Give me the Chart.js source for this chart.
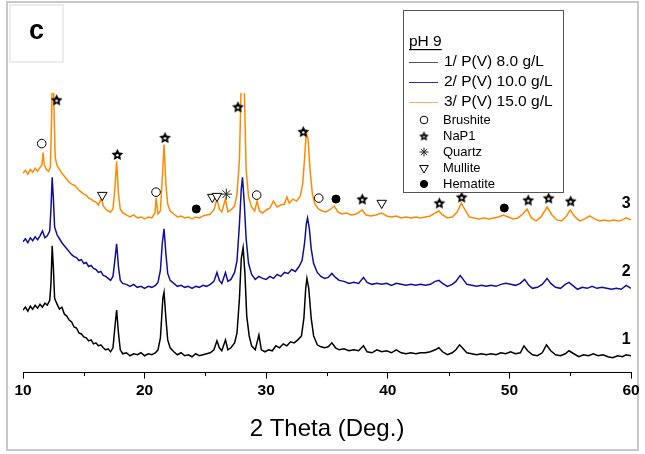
<!DOCTYPE html>
<html>
<head>
<meta charset="utf-8">
<script src="https://cdn.jsdelivr.net/npm/chart.js@4/dist/chart.umd.min.js"></script>
<style>
  html, body { margin: 0; padding: 0; background: #fff; }
  #wrap { width: 645px; height: 454px; }
</style>
</head>
<body>
<div id="wrap"><canvas id="xrd" width="645" height="454"></canvas></div>
<script>
// wzorce XRD (2 theta, intensywność a.u. z przesunięciem)
const pattern1 = [
  [10.0,63],[10.2,66],[10.4,62],[10.6,67],[10.8,64],[11.0,68],[11.2,65],[11.4,69],[11.6,66],[11.8,70],
  [12.0,68],[12.2,73],[12.3,90],[12.4,128],[12.5,105],[12.6,75],[12.8,69],[13.0,64],[13.2,66],[13.4,59],
  [13.6,57],[13.8,53],[14.0,51],[14.2,46],[14.4,45],[14.6,40],[14.8,39],[15.0,36],[15.2,35],[15.4,32],
  [15.6,33],[15.8,29],[16.0,30],[16.2,27],[16.4,28],[16.6,25],[16.8,23],[17.0,24],[17.2,21],[17.4,25],
  [17.55,45],[17.7,63],[17.85,40],[18.0,23],[18.2,19],[18.5,20],[18.8,17],[19.1,19],[19.4,18],[19.7,20],
  [20.0,17],[20.3,19],[20.6,18],[20.9,20],[21.1,23],[21.3,35],[21.5,75],[21.6,81],[21.75,55],[21.9,33],
  [22.1,25],[22.4,21],[22.7,18],[23.0,20],[23.3,17],[23.6,18],[23.9,16],[24.2,19],[24.5,17],[24.8,18],
  [25.1,19],[25.4,20],[25.7,23],[25.95,32],[26.15,25],[26.35,22],[26.65,33],[26.85,23],[27.1,25],[27.4,30],
  [27.6,40],[27.8,75],[27.95,115],[28.1,126],[28.25,100],[28.4,57],[28.6,37],[28.8,27],[29.1,23],[29.4,38],
  [29.6,23],[29.9,21],[30.2,23],[30.5,22],[30.8,27],[31.1,25],[31.4,29],[31.7,27],[32.0,31],[32.3,30],
  [32.6,33],[32.9,37],[33.1,55],[33.25,85],[33.35,95],[33.5,85],[33.7,55],[33.9,37],[34.2,28],[34.5,26],
  [34.8,25],[35.1,26],[35.4,30],[35.7,25],[36.0,23],[36.4,24],[36.8,22],[37.2,23],[37.6,22],[38.0,27],
  [38.3,21],[38.7,20],[39.1,23],[39.5,21],[39.9,22],[40.3,20],[40.7,23],[41.1,20],[41.5,19],[41.9,20],
  [42.3,19],[42.7,20],[43.1,20],[43.5,21],[43.9,23],[44.2,25],[44.5,21],[44.9,18],[45.3,20],[45.6,23],
  [45.9,28],[46.2,24],[46.5,20],[46.9,19],[47.3,18],[47.7,19],[48.1,18],[48.5,19],[48.9,18],[49.3,20],
  [49.7,19],[50.1,21],[50.5,19],[50.9,20],[51.2,27],[51.5,22],[51.9,18],[52.3,17],[52.7,20],[53.05,28],
  [53.4,22],[53.8,18],[54.2,17],[54.6,19],[54.9,22],[55.3,19],[55.7,16],[56.1,18],[56.5,17],[56.9,19],
  [57.3,17],[57.7,18],[58.1,16],[58.5,15],[58.9,17],[59.3,16],[59.6,18],[60.0,17]
];

const pattern2 = [
  [10.0,132],[10.2,135],[10.4,131],[10.6,136],[10.8,133],[11.0,137],[11.2,134],[11.4,138],[11.6,143],[11.8,136],
  [12.0,138],[12.2,143],[12.3,165],[12.4,197],[12.5,175],[12.6,147],[12.8,139],[13.0,135],[13.2,131],[13.4,128],
  [13.6,125],[13.8,122],[14.0,119],[14.2,117],[14.4,116],[14.6,113],[14.8,114],[15.0,110],[15.2,111],[15.4,107],
  [15.6,108],[15.8,105],[16.0,104],[16.2,101],[16.4,102],[16.6,98],[16.8,97],[17.0,95],[17.2,93],[17.4,97],
  [17.55,113],[17.7,130],[17.85,107],[18.0,93],[18.2,90],[18.5,89],[18.8,87],[19.1,89],[19.4,86],[19.7,87],
  [20.0,85],[20.3,87],[20.6,86],[20.9,88],[21.1,91],[21.3,103],[21.45,130],[21.6,145],[21.75,120],[21.9,100],
  [22.1,93],[22.4,90],[22.7,87],[23.0,88],[23.3,86],[23.6,87],[23.9,85],[24.2,87],[24.5,86],[24.8,88],
  [25.1,87],[25.4,89],[25.7,92],[25.95,101],[26.15,93],[26.35,90],[26.65,101],[26.85,92],[27.1,94],[27.4,101],
  [27.6,113],[27.8,150],[27.95,185],[28.05,197],[28.2,170],[28.35,135],[28.55,110],[28.8,99],[29.1,94],[29.4,97],
  [29.7,95],[30.0,94],[30.3,97],[30.6,95],[30.9,99],[31.2,97],[31.5,101],[31.8,100],[32.1,104],[32.4,102],
  [32.7,107],[32.95,113],[33.15,130],[33.3,150],[33.4,156],[33.55,145],[33.7,125],[33.9,110],[34.2,101],[34.5,97],
  [34.8,95],[35.1,96],[35.4,100],[35.7,96],[36.0,93],[36.4,92],[36.8,90],[37.2,91],[37.6,90],[38.0,96],
  [38.3,91],[38.7,89],[39.1,90],[39.5,89],[39.9,90],[40.3,88],[40.7,90],[41.1,89],[41.5,88],[41.9,89],
  [42.3,88],[42.7,89],[43.1,88],[43.5,89],[43.9,92],[44.2,93],[44.5,90],[44.9,87],[45.3,89],[45.6,92],
  [45.95,98],[46.2,94],[46.5,89],[46.9,88],[47.3,87],[47.7,88],[48.1,87],[48.5,88],[48.9,87],[49.3,89],
  [49.7,90],[50.1,89],[50.5,88],[50.9,90],[51.25,94],[51.6,88],[51.9,85],[52.3,86],[52.7,89],[53.1,95],
  [53.4,90],[53.8,86],[54.2,85],[54.6,89],[54.9,91],[55.2,88],[55.6,84],[56.0,86],[56.4,85],[56.8,87],
  [57.2,85],[57.6,86],[58.0,85],[58.4,84],[58.8,85],[59.2,84],[59.6,88],[60.0,85]
];

const pattern3 = [
  [10.0,201],[10.2,204],[10.4,200],[10.6,205],[10.8,202],[11.0,206],[11.2,203],[11.4,207],[11.55,209],[11.65,222],
  [11.75,210],[11.9,205],[12.1,203],[12.25,207],[12.35,255],[12.45,335],[12.55,265],[12.65,217],[12.8,209],[13.0,205],
  [13.2,201],[13.4,198],[13.6,195],[13.8,192],[14.0,190],[14.2,189],[14.4,187],[14.6,184],[14.8,182],[15.0,180],
  [15.2,179],[15.4,176],[15.6,175],[15.8,173],[16.0,172],[16.2,169],[16.45,176],[16.6,168],[16.8,165],[17.0,163],
  [17.2,162],[17.4,165],[17.55,185],[17.7,213],[17.85,180],[18.0,165],[18.2,161],[18.5,159],[18.8,157],[19.1,159],
  [19.4,156],[19.7,157],[20.0,155],[20.3,157],[20.6,156],[20.85,161],[20.95,176],[21.1,160],[21.3,163],[21.45,195],
  [21.6,230],[21.75,190],[21.9,170],[22.1,163],[22.4,160],[22.7,157],[23.0,158],[23.3,156],[23.6,157],[23.9,155],
  [24.2,157],[24.5,156],[24.8,158],[25.1,159],[25.4,160],[25.7,164],[25.95,175],[26.15,165],[26.35,162],[26.65,175],
  [26.85,162],[27.1,164],[27.4,168],[27.6,180],[27.8,215],[27.95,295],[28.07,335],[28.2,285],[28.35,205],[28.55,177],
  [28.8,167],[29.05,163],[29.25,173],[29.45,163],[29.7,161],[30.0,164],[30.3,166],[30.6,173],[30.9,167],[31.2,169],
  [31.5,170],[31.7,177],[31.9,171],[32.2,175],[32.5,173],[32.8,178],[33.0,190],[33.15,215],[33.3,242],[33.45,235],
  [33.6,205],[33.8,180],[34.0,170],[34.3,165],[34.6,163],[34.9,162],[35.2,164],[35.6,168],[35.9,162],[36.2,160],
  [36.6,161],[37.0,159],[37.4,160],[37.9,164],[38.2,159],[38.6,158],[39.0,159],[39.5,161],[39.9,158],[40.3,157],
  [40.7,158],[41.1,156],[41.5,157],[41.9,156],[42.3,157],[42.7,156],[43.1,157],[43.5,158],[43.9,161],[44.2,163],
  [44.5,159],[44.9,156],[45.3,157],[45.7,162],[46.05,171],[46.4,163],[46.7,157],[47.1,156],[47.5,155],[47.9,156],
  [48.3,155],[48.7,156],[49.1,157],[49.5,159],[49.9,157],[50.3,155],[50.7,156],[51.1,160],[51.45,165],[51.8,156],
  [52.2,153],[52.6,157],[53.1,167],[53.5,159],[53.9,154],[54.3,153],[54.7,158],[55.0,164],[55.4,157],[55.8,153],
  [56.2,155],[56.6,158],[57.0,155],[57.4,153],[57.8,154],[58.2,153],[58.6,154],[59.0,153],[59.3,154],[59.6,156],
  [60.0,154]
];

// oznaczenia faz nad pikami
const brushite = [[11.54,231],[20.94,182],[29.22,179],[34.32,176]];
const nap1 = [[12.77,275],[17.76,220],[21.68,237],[27.68,268],[33.05,243],[37.9,175],[44.24,171],[46.08,177],[51.55,174],[53.23,176],[55.04,173]];
const quartz = [[26.72,180]];
const mullite = [[16.52,179],[25.57,177],[25.95,178],[39.5,171]];
const hematite = [[24.25,165],[35.74,175],[49.58,166]];

const seriesNames = ['1/ P(V) 8.0 g/L', '2/ P(V) 10.0 g/L', '3/ P(V) 15.0 g/L'];
const phaseNames = ['Brushite', 'NaP1', 'Quartz', 'Mullite', 'Hematite'];
const curveLabels = [['1', 33], ['2', 102], ['3', 170]];

const toPts = arr => arr.map(p => ({ x: p[0], y: p[1] }));

// gwiazdka NaP1 jako mały canvas
function makeStar(r) {
    const c = document.createElement('canvas');
    c.width = c.height = Math.ceil(2 * r + 2);
    const g = c.getContext('2d');
    const cx = c.width / 2, cy = c.height / 2 + 0.5;
    g.beginPath();
    for (let i = 0; i < 10; i++) {
        const a = -Math.PI / 2 + i * Math.PI / 5;
        const rr = i % 2 === 0 ? r : r * 0.48;
        g.lineTo(cx + rr * Math.cos(a), cy + rr * Math.sin(a));
    }
    g.closePath();
    g.fillStyle = '#000';
    g.fill();
    g.beginPath();
    g.arc(cx, cy + 0.3, r * 0.2, 0, Math.PI * 2);
    g.fillStyle = '#fff';
    g.fill();
    return c;
}
const starImg = makeStar(6.2);
const starImgSmall = makeStar(5.2);

const markerStyles = [
    { pointStyle: 'circle', radius: 4.3, bg: '#fff', border: '#000', rotation: 0 },
    { pointStyle: starImg, radius: 6, bg: '#000', border: '#000', rotation: 0 },
    { pointStyle: 'star', radius: 5.5, bg: '#fff', border: '#222', rotation: 0 },
    { pointStyle: 'triangle', radius: 5.5, bg: '#fff', border: '#000', rotation: 180 },
    { pointStyle: 'circle', radius: 4, bg: '#000', border: '#000', rotation: 0 }
];
const lineColors = ['#000000', '#0f0f9c', '#ff8a00'];
const legendLineColors = ['#555555', '#2a2ab8', '#ffaa66'];

const markerSets = [brushite, nap1, quartz, mullite, hematite].map((arr, i) => ({
    type: 'scatter',
    label: phaseNames[i],
    data: toPts(arr),
    pointStyle: markerStyles[i].pointStyle,
    pointRadius: markerStyles[i].radius,
    pointRotation: markerStyles[i].rotation,
    pointBackgroundColor: markerStyles[i].bg,
    pointBorderColor: markerStyles[i].border,
    pointBorderWidth: 1,
    clip: false
}));

const lineSets = [pattern3, pattern2, pattern1].map((arr, k) => {
    const i = 2 - k;
    return {
        type: 'line',
        label: seriesNames[i],
        data: toPts(arr),
        borderColor: lineColors[i],
        borderWidth: 1.5,
        pointRadius: 0,
        tension: 0
    };
});

// ramka, etykieta "c", legenda i numery krzywych
const decorPlugin = {
    id: 'decor',
    beforeDraw(chart) {
        const ctx = chart.ctx;
        ctx.save();
        ctx.fillStyle = '#fff';
        ctx.fillRect(0, 0, chart.width, chart.height);
        ctx.strokeStyle = '#c8c8c8';
        ctx.lineWidth = 2;
        ctx.strokeRect(7, 2, 631, 448);
        ctx.strokeStyle = '#ececec';
        ctx.strokeRect(10, 5, 53, 57);
        ctx.fillStyle = '#000';
        ctx.font = 'bold 27px Arial, "Liberation Sans", sans-serif';
        ctx.textAlign = 'center';
        ctx.textBaseline = 'middle';
        ctx.fillText('c', 36.5, 32);
        ctx.restore();
    },
    afterDraw(chart) {
        const ctx = chart.ctx;
        const xs = chart.scales.x, ys = chart.scales.y;
        ctx.save();
        // podziałka pomocnicza
        ctx.strokeStyle = '#000';
        ctx.lineWidth = 1;
        for (let v = 15; v < 60; v += 10) {
            const px = Math.round(xs.getPixelForValue(v)) + 0.5;
            ctx.beginPath();
            ctx.moveTo(px, chart.chartArea.bottom);
            ctx.lineTo(px, chart.chartArea.bottom + 3.5);
            ctx.stroke();
        }
        // numery krzywych
        ctx.fillStyle = '#000';
        ctx.font = 'bold 16px Arial, "Liberation Sans", sans-serif';
        ctx.textAlign = 'center';
        ctx.textBaseline = 'middle';
        curveLabels.forEach(([txt, val]) => {
            ctx.fillText(txt, xs.getPixelForValue(59.6), ys.getPixelForValue(val));
        });
        // legenda
        ctx.fillStyle = '#fff';
        ctx.fillRect(403.5, 10.5, 160, 182);
        ctx.strokeStyle = '#555';
        ctx.lineWidth = 1;
        ctx.strokeRect(403.5, 10.5, 160, 182);
        ctx.fillStyle = '#000';
        ctx.textAlign = 'left';
        ctx.font = '15.5px Arial, "Liberation Sans", sans-serif';
        ctx.fillText('pH 9', 409, 42);
        const w = ctx.measureText('pH 9').width;
        ctx.fillRect(409, 49, w, 1.2);
        seriesNames.forEach((name, i) => {
            const y = 62 + i * 20;
            ctx.strokeStyle = legendLineColors[i];
            ctx.lineWidth = 1;
            ctx.beginPath();
            ctx.moveTo(409, y + 0.5);
            ctx.lineTo(438, y + 0.5);
            ctx.stroke();
            ctx.fillText(name, 444, y);
        });
        ctx.font = '13px Arial, "Liberation Sans", sans-serif';
        phaseNames.forEach((name, i) => {
            ctx.fillText(name, 443, 120 + i * 16);
        });
        // symbole faz w legendzie
        const sizes = [3.8, 5, 4.5, 5, 3.6];
        const styles = ['circle', starImgSmall, 'star', 'triangle', 'circle'];
        styles.forEach((st, i) => {
            ctx.fillStyle = markerStyles[i].bg;
            ctx.strokeStyle = markerStyles[i].border;
            ctx.lineWidth = 1;
            Chart.helpers.drawPoint(ctx, {
                pointStyle: st,
                radius: sizes[i],
                rotation: markerStyles[i].rotation,
                borderWidth: 1
            }, 424, 120 + i * 16);
        });
        ctx.restore();
    }
};

new Chart(document.getElementById('xrd').getContext('2d'), {
    data: { datasets: markerSets.concat(lineSets) },
    options: {
        responsive: false,
        animation: false,
        events: [],
        layout: { padding: { left: 23, right: 14, top: 93, bottom: 6 } },
        plugins: { legend: { display: false }, tooltip: { enabled: false } },
        scales: {
            x: {
                type: 'linear',
                min: 10,
                max: 60,
                ticks: {
                    stepSize: 10,
                    color: '#000',
                    padding: 3,
                    maxRotation: 0,
                    font: { family: 'Arial, "Liberation Sans", sans-serif', size: 15.5, weight: 'bold' }
                },
                grid: { drawOnChartArea: false, tickLength: 6, color: '#000', tickWidth: 1 },
                border: { color: '#000', width: 1 },
                title: {
                    display: true,
                    text: '2 Theta (Deg.)',
                    color: '#000',
                    padding: { top: 12, bottom: 4 },
                    font: { family: 'Arial, "Liberation Sans", sans-serif', size: 24 }
                }
            },
            y: { type: 'linear', min: 0, max: 282, display: false }
        }
    },
    plugins: [decorPlugin]
});
</script>
</body>
</html>
